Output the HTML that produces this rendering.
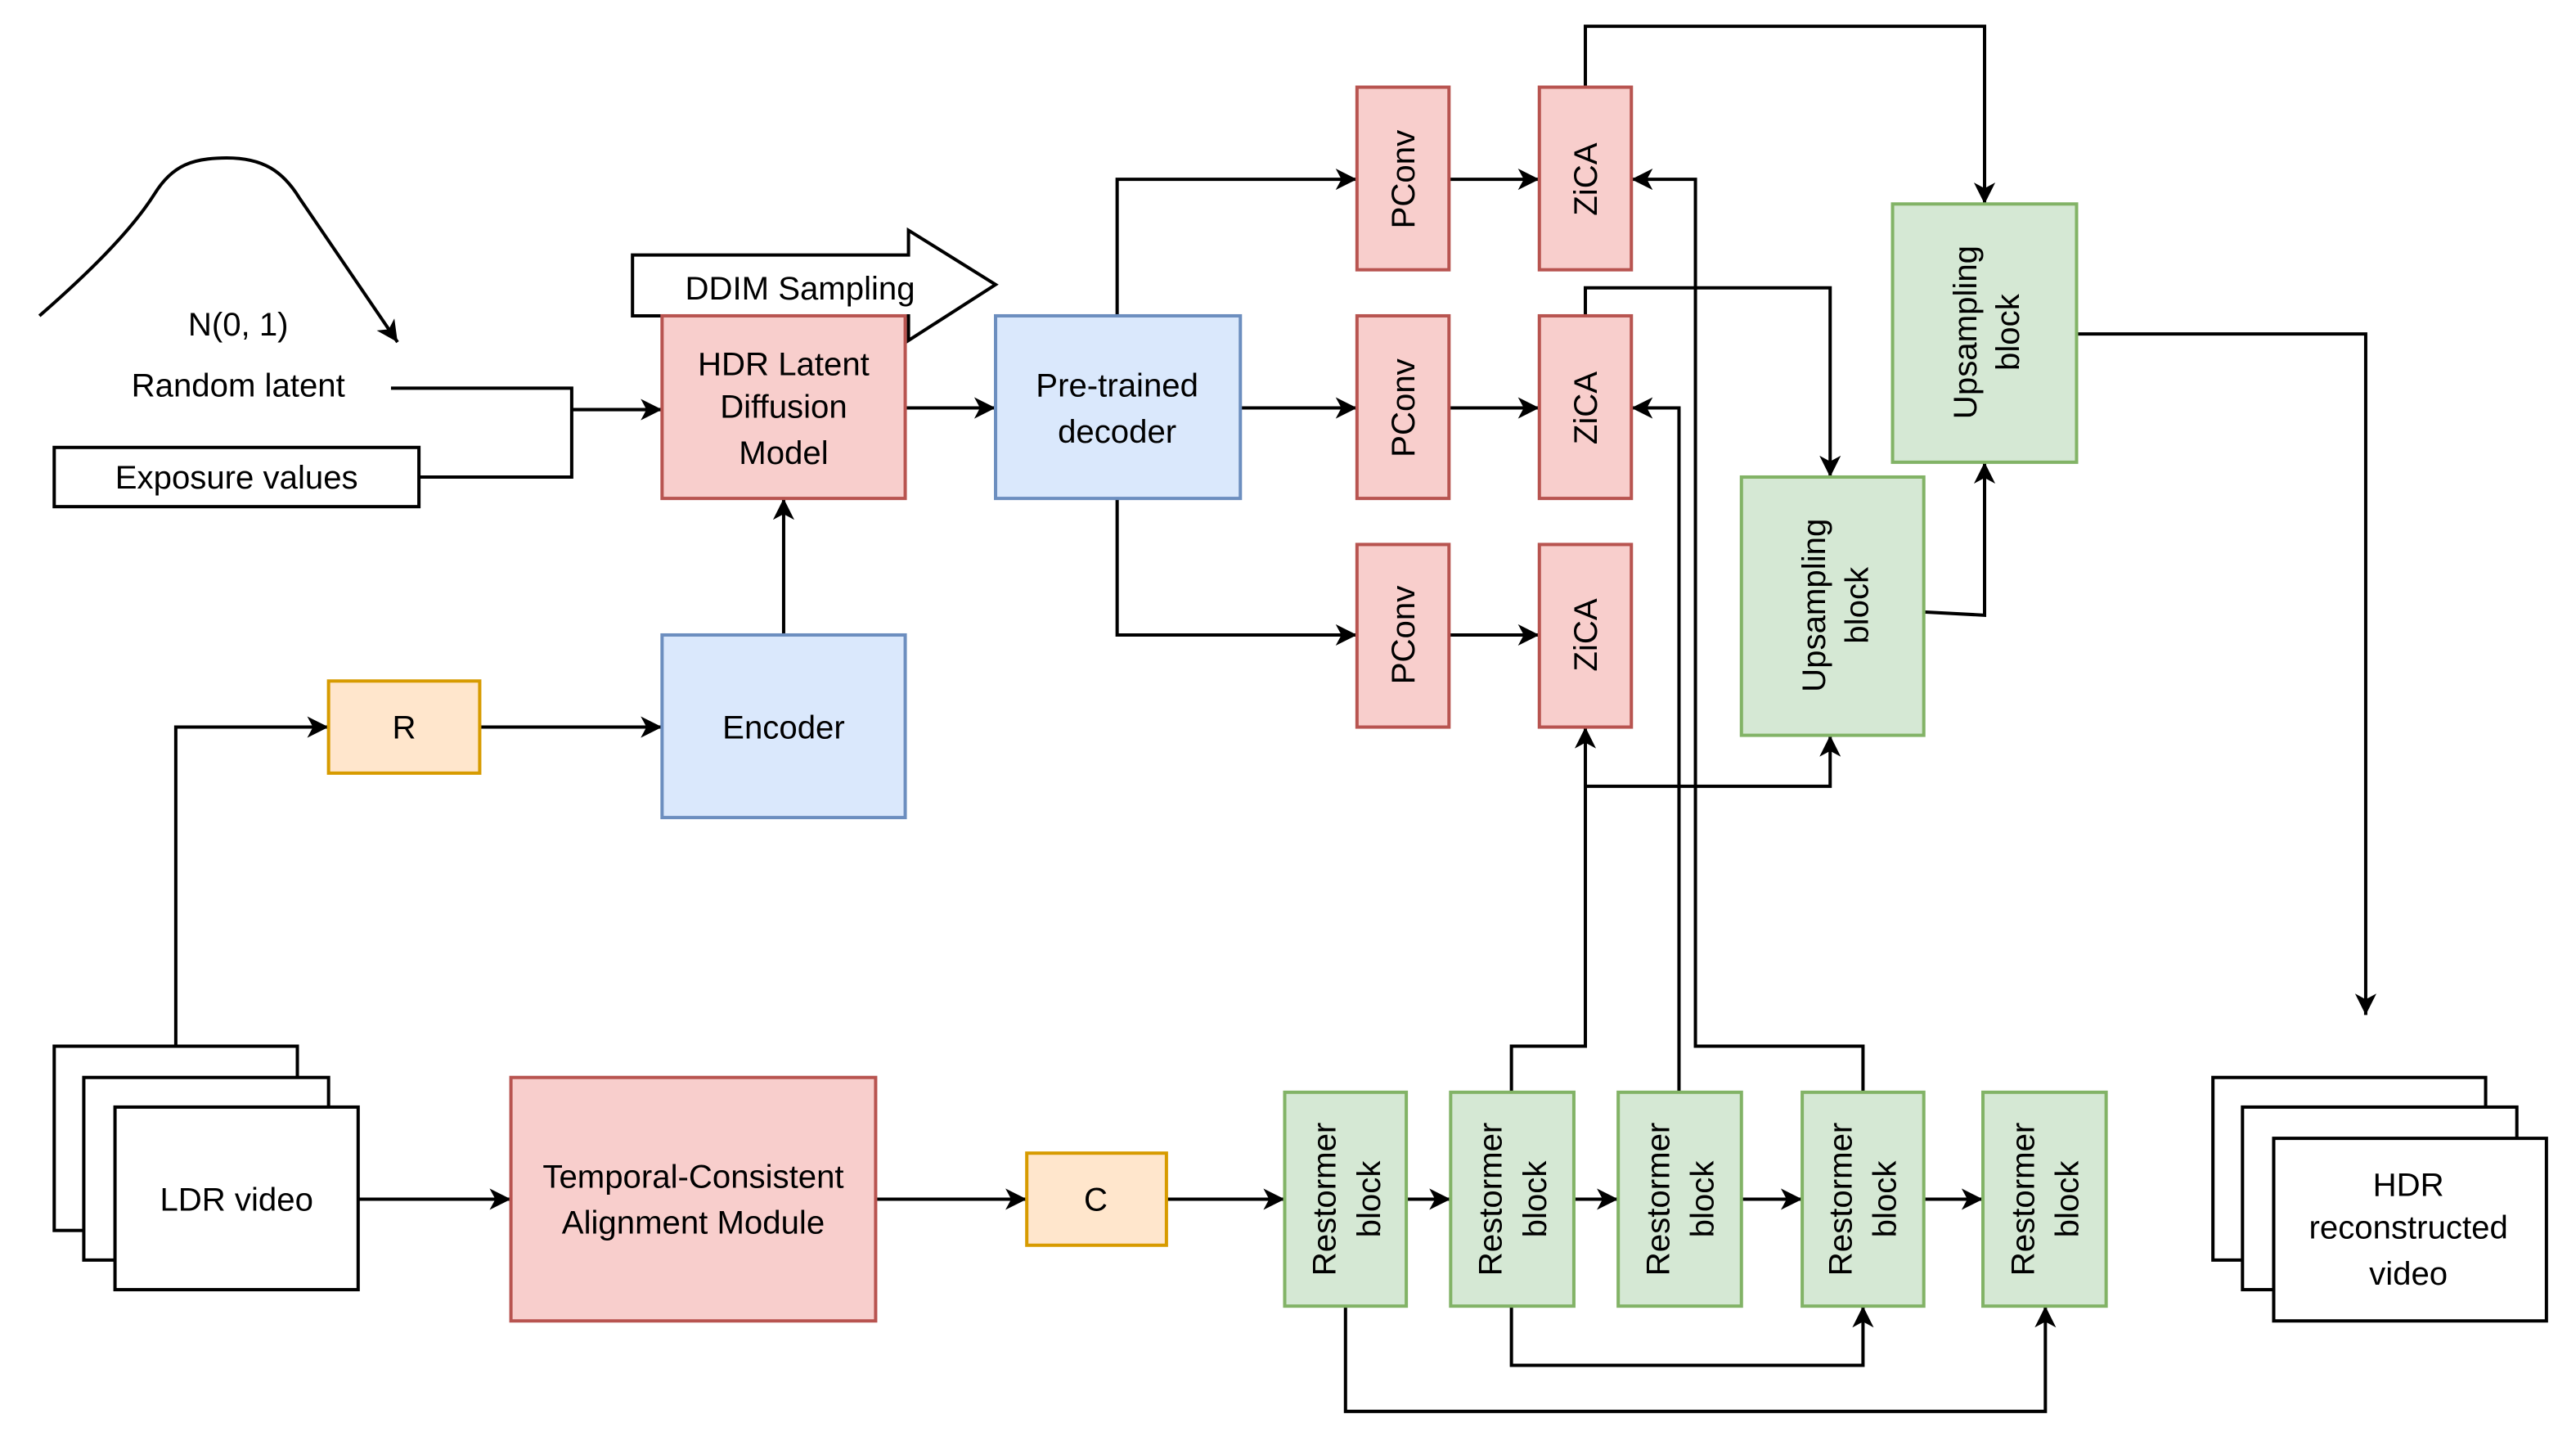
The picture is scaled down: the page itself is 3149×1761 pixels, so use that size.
<!DOCTYPE html>
<html><head><meta charset="utf-8"><style>
html,body{margin:0;padding:0;background:#fff}
svg{display:block}
text{font-family:"Liberation Sans","DejaVu Sans",sans-serif;font-size:20px;fill:#000}
</style></head><body>
<svg width="3149" height="1761" viewBox="0 0 1568 876" preserveAspectRatio="none" xmlns="http://www.w3.org/2000/svg">
<defs>
<marker id="a" markerUnits="userSpaceOnUse" markerWidth="16" markerHeight="14" refX="13" refY="6.5" orient="auto">
<path d="M0,0 L13,6.5 L0,13 L3.5,6.5 Z" fill="#000"/>
</marker>
</defs>
<g fill="none" stroke="#000" stroke-width="2">
<path d="M24,192 C55,165 80,140 94,118 C105,100 118,96 138,96 C160,96 172,104 182,120 L242,208" marker-end="url(#a)"/>
<path d="M238,236 H348 V290 H248"/>
<path d="M348,249 H403" marker-end="url(#a)"/>
<path d="M551,248 H606" marker-end="url(#a)"/>
<path d="M477,386 V303" marker-end="url(#a)"/>
<path d="M292,442 H403" marker-end="url(#a)"/>
<path d="M107,636 V442 H200" marker-end="url(#a)"/>
<path d="M680,192 V109 H826" marker-end="url(#a)"/>
<path d="M755,248 H826" marker-end="url(#a)"/>
<path d="M680,303 V386 H826" marker-end="url(#a)"/>
<path d="M882,109 H937" marker-end="url(#a)"/>
<path d="M882,248 H937" marker-end="url(#a)"/>
<path d="M882,386 H937" marker-end="url(#a)"/>
<path d="M965,53 V16 H1208 V124" marker-end="url(#a)"/>
<path d="M965,192 V175 H1114 V290" marker-end="url(#a)"/>
<path d="M1171,372 L1208,374 V281" marker-end="url(#a)"/>
<path d="M1264,203 H1440 V617" marker-end="url(#a)"/>
<path d="M920,664 V636 H965 V442" marker-end="url(#a)"/>
<path d="M965,478 H1114 V447" marker-end="url(#a)"/>
<path d="M1022,664 V248 H993" marker-end="url(#a)"/>
<path d="M1134,664 V636 H1032 V109 H993" marker-end="url(#a)"/>
<path d="M218,729 H311" marker-end="url(#a)"/>
<path d="M533,729 H625" marker-end="url(#a)"/>
<path d="M710,729 H782" marker-end="url(#a)"/>
<path d="M856,729 H883" marker-end="url(#a)"/>
<path d="M958,729 H985" marker-end="url(#a)"/>
<path d="M1060,729 H1097" marker-end="url(#a)"/>
<path d="M1171,729 H1207" marker-end="url(#a)"/>
<path d="M819,794 V858 H1245 V794" marker-end="url(#a)"/>
<path d="M920,794 V830 H1134 V794" marker-end="url(#a)"/>
</g>
<path d="M385,155 H553 V140 L606,173 L553,207 V192 H385 Z" fill="#fff" stroke="#000" stroke-width="2"/>
<text x="487" y="182" text-anchor="middle">DDIM Sampling</text>
<text x="145" y="204" text-anchor="middle">N(0, 1)</text>
<text x="145" y="241" text-anchor="middle">Random latent</text>
<rect x="33" y="272" width="222" height="36" fill="#fff" stroke="#000" stroke-width="2"/>
<text x="144" y="297" text-anchor="middle">Exposure values</text>
<rect x="403" y="192" width="148" height="111" fill="#f8cecc" stroke="#b85450" stroke-width="2"/>
<text x="477" y="228" text-anchor="middle">HDR Latent</text>
<text x="477" y="254" text-anchor="middle">Diffusion</text>
<text x="477" y="282" text-anchor="middle">Model</text>
<rect x="606" y="192" width="149" height="111" fill="#dae8fc" stroke="#6c8ebf" stroke-width="2"/>
<text x="680" y="241" text-anchor="middle">Pre-trained</text>
<text x="680" y="269" text-anchor="middle">decoder</text>
<rect x="403" y="386" width="148" height="111" fill="#dae8fc" stroke="#6c8ebf" stroke-width="2"/>
<text x="477" y="449" text-anchor="middle">Encoder</text>
<rect x="200" y="414" width="92" height="56" fill="#ffe6cc" stroke="#d79b00" stroke-width="2"/>
<text x="246" y="449" text-anchor="middle">R</text>
<rect x="625" y="701" width="85" height="56" fill="#ffe6cc" stroke="#d79b00" stroke-width="2"/>
<text x="667" y="736" text-anchor="middle">C</text>
<g fill="#fff" stroke="#000" stroke-width="2">
<rect x="33" y="636" width="148" height="112"/>
<rect x="51" y="655" width="149" height="111"/>
<rect x="70" y="673" width="148" height="111"/>
<rect x="1347" y="655" width="166" height="111"/>
<rect x="1365" y="673" width="167" height="111"/>
<rect x="1384" y="692" width="166" height="111"/>
</g>
<text x="144" y="736" text-anchor="middle">LDR video</text>
<text x="1466" y="727" text-anchor="middle">HDR</text>
<text x="1466" y="753" text-anchor="middle">reconstructed</text>
<text x="1466" y="781" text-anchor="middle">video</text>
<rect x="311" y="655" width="222" height="148" fill="#f8cecc" stroke="#b85450" stroke-width="2"/>
<text x="422" y="722" text-anchor="middle">Temporal-Consistent</text>
<text x="422" y="750" text-anchor="middle">Alignment Module</text>
<g fill="#f8cecc" stroke="#b85450" stroke-width="2">
<rect x="826" y="53" width="56" height="111"/>
<rect x="826" y="192" width="56" height="111"/>
<rect x="826" y="331" width="56" height="111"/>
<rect x="937" y="53" width="56" height="111"/>
<rect x="937" y="192" width="56" height="111"/>
<rect x="937" y="331" width="56" height="111"/>
</g>
<text transform="translate(861,109) rotate(-90)" text-anchor="middle">PConv</text>
<text transform="translate(861,248) rotate(-90)" text-anchor="middle">PConv</text>
<text transform="translate(861,386) rotate(-90)" text-anchor="middle">PConv</text>
<text transform="translate(972,109) rotate(-90)" text-anchor="middle">ZiCA</text>
<text transform="translate(972,248) rotate(-90)" text-anchor="middle">ZiCA</text>
<text transform="translate(972,386) rotate(-90)" text-anchor="middle">ZiCA</text>
<g fill="#d5e8d4" stroke="#82b366" stroke-width="2">
<rect x="1152" y="124" width="112" height="157"/>
<rect x="1060" y="290" width="111" height="157"/>
<rect x="782" y="664" width="74" height="130"/>
<rect x="883" y="664" width="75" height="130"/>
<rect x="985" y="664" width="75" height="130"/>
<rect x="1097" y="664" width="74" height="130"/>
<rect x="1207" y="664" width="75" height="130"/>
</g>
<text transform="translate(1203,202) rotate(-90)" text-anchor="middle">Upsampling</text>
<text transform="translate(1229,202) rotate(-90)" text-anchor="middle">block</text>
<text transform="translate(1111,368) rotate(-90)" text-anchor="middle">Upsampling</text>
<text transform="translate(1137,368) rotate(-90)" text-anchor="middle">block</text>
<text transform="translate(813,729) rotate(-90)" text-anchor="middle">Restormer</text>
<text transform="translate(840,729) rotate(-90)" text-anchor="middle">block</text>
<text transform="translate(914,729) rotate(-90)" text-anchor="middle">Restormer</text>
<text transform="translate(941,729) rotate(-90)" text-anchor="middle">block</text>
<text transform="translate(1016,729) rotate(-90)" text-anchor="middle">Restormer</text>
<text transform="translate(1043,729) rotate(-90)" text-anchor="middle">block</text>
<text transform="translate(1127,729) rotate(-90)" text-anchor="middle">Restormer</text>
<text transform="translate(1154,729) rotate(-90)" text-anchor="middle">block</text>
<text transform="translate(1238,729) rotate(-90)" text-anchor="middle">Restormer</text>
<text transform="translate(1265,729) rotate(-90)" text-anchor="middle">block</text>
</svg>
</body></html>
